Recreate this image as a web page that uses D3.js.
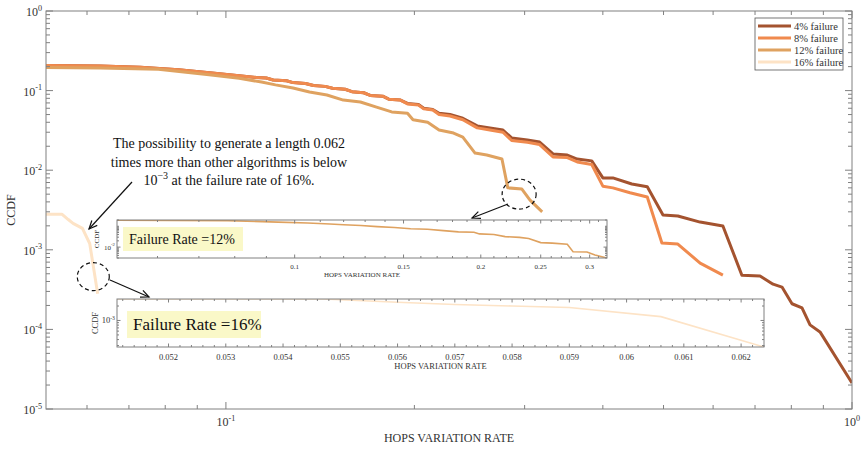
<!DOCTYPE html>
<html>
<head>
<meta charset="utf-8">
<script src="https://cdn.jsdelivr.net/npm/d3@7"></script>
<style>
  body { margin: 0; background: #fff; }
  svg { font-family: "Liberation Serif", "Times New Roman", serif; }
</style>
</head>
<body>
<svg id="chart" width="862" height="449"></svg>
<script>
// ---- data ----
const seriesNames = ["4% failure", "8% failure", "12% failure", "16% failure"];
const colors = ["#A4532F", "#F08A4E", "#DFA260", "#FDE3C6"];

const x4 = [0.0516,0.063,0.073,0.084,0.095,0.105,0.112,0.116,0.119,0.125,0.128,0.134,0.138,0.144,0.148,0.155,0.159,0.166,0.170,0.178,0.182,0.190,0.195,0.203,0.207,0.214,0.219,0.228,0.239,0.252,0.264,0.277,0.286,0.303,0.317,0.333,0.351,0.364,0.384,0.400,0.415,0.445,0.471,0.499,0.527,0.572,0.622,0.667,0.713,0.748,0.773,0.802,0.832,0.857,0.889,1.0];
const y4 = [0.206,0.204,0.197,0.183,0.166,0.154,0.146,0.144,0.136,0.133,0.126,0.123,0.116,0.113,0.107,0.104,0.097,0.094,0.087,0.085,0.078,0.076,0.069,0.067,0.060,0.058,0.052,0.050,0.0450,0.036,0.034,0.032,0.0254,0.024,0.0226,0.016,0.0155,0.0138,0.0131,0.0080,0.0080,0.0067,0.0062,0.00274,0.00266,0.00223,0.00199,0.00048,0.00047,0.00037,0.00034,0.00021,0.000186,0.000114,0.000093,0.0000212];

const x8 = [0.0516,0.063,0.073,0.084,0.095,0.105,0.112,0.116,0.119,0.125,0.128,0.134,0.138,0.144,0.148,0.155,0.159,0.166,0.170,0.178,0.182,0.190,0.195,0.203,0.207,0.214,0.219,0.228,0.239,0.252,0.264,0.277,0.286,0.303,0.317,0.333,0.351,0.364,0.384,0.400,0.415,0.442,0.471,0.497,0.527,0.572,0.622];
const y8 = [0.206,0.204,0.197,0.183,0.166,0.154,0.146,0.144,0.136,0.133,0.126,0.123,0.116,0.113,0.107,0.104,0.097,0.094,0.087,0.085,0.078,0.076,0.068,0.066,0.059,0.057,0.050,0.048,0.043,0.034,0.032,0.030,0.0236,0.0224,0.0210,0.0147,0.0144,0.0127,0.0118,0.0063,0.0060,0.0052,0.0046,0.00122,0.00118,0.00068,0.00048];

const x12 = [0.0516,0.063,0.078,0.094,0.105,0.114,0.120,0.128,0.136,0.145,0.154,0.164,0.174,0.184,0.195,0.199,0.210,0.219,0.231,0.239,0.250,0.261,0.276,0.282,0.297,0.306,0.320];
const y12 = [0.195,0.192,0.186,0.158,0.143,0.128,0.118,0.108,0.096,0.088,0.076,0.072,0.062,0.054,0.052,0.043,0.040,0.032,0.0293,0.0261,0.0164,0.0155,0.0138,0.0060,0.0058,0.0042,0.0030];

const x16 = [0.0511,0.0547,0.056,0.057,0.058,0.059,0.0606,0.0624];
const y16 = [0.0028,0.0028,0.00240,0.00215,0.00200,0.00186,0.00120,0.00028];

// ticks
const xMajor = [0.1, 1];
const xMajorExp = ["-1", "0"];
const xMinor = [0.06,0.07,0.08,0.09,0.2,0.3,0.4,0.5,0.6,0.7,0.8,0.9];
const yMajor = [1e-5, 1e-4, 1e-3, 1e-2, 1e-1, 1];
const yMajorExp = ["-5", "-4", "-3", "-2", "-1", "0"];

const in12XMajor = [0.1, 0.15, 0.2, 0.25, 0.3];
const in12XLabels = ["0.1", "0.15", "0.2", "0.25", "0.3"];
const in16XMajor = [0.052,0.053,0.054,0.055,0.056,0.057,0.058,0.059,0.06,0.061,0.062];
const in16XLabels = ["0.052","0.053","0.054","0.055","0.056","0.057","0.058","0.059","0.06","0.061","0.062"];

function logMinor(lo, hi) {
  const out = [];
  for (let e = Math.floor(Math.log10(lo)); e <= Math.ceil(Math.log10(hi)); e++) {
    for (let k = 2; k <= 9; k++) {
      const v = k * Math.pow(10, e);
      if (v >= lo && v <= hi) out.push(v);
    }
  }
  return out;
}

const svg = d3.select("#chart");
const axisColor = "#808080";
const textColor = "#333";

const x = d3.scaleLog().domain([0.0516, 1]).range([46, 852]);
const y = d3.scaleLog().domain([1e-5, 1]).range([409, 11]);

const series = [
  { name: seriesNames[0], xs: x4, ys: y4, color: colors[0] },
  { name: seriesNames[1], xs: x8, ys: y8, color: colors[1] },
  { name: seriesNames[2], xs: x12, ys: y12, color: colors[2] },
  { name: seriesNames[3], xs: x16, ys: y16, color: colors[3] }
];

let clipId = 0;
function addClip(x0, y0, w, h) {
  const id = "clip" + (clipId++);
  svg.append("clipPath").attr("id", id)
    .append("rect").attr("x", x0).attr("y", y0).attr("width", w).attr("height", h);
  return "url(#" + id + ")";
}

// ticks pointing inward on all four sides
function drawFrame(g, xs, ys, o) {
  const [x0, x1] = xs.range();
  const [y0, y1] = ys.range();
  const tick = (vals, len, side) => {
    vals.forEach(v => {
      if (side === "x") {
        const px = xs(v);
        g.append("line").attr("x1", px).attr("x2", px).attr("y1", y0).attr("y2", y0 - len);
        g.append("line").attr("x1", px).attr("x2", px).attr("y1", y1).attr("y2", y1 + len);
      } else {
        const py = ys(v);
        g.append("line").attr("y1", py).attr("y2", py).attr("x1", x0).attr("x2", x0 + len);
        g.append("line").attr("y1", py).attr("y2", py).attr("x1", x1).attr("x2", x1 - len);
      }
    });
  };
  g.attr("stroke", axisColor).attr("stroke-width", 1);
  tick(o.xMajor, o.major, "x");
  tick(o.xMinor, o.minor, "x");
  tick(o.yMajor, o.major, "y");
  tick(o.yMinor, o.minor, "y");
  g.append("rect").attr("x", x0).attr("y", y1).attr("width", x1 - x0).attr("height", y0 - y1)
    .attr("fill", "none");
}

function powLabel(sel, exp, fs) {
  sel.append("tspan").text("10");
  sel.append("tspan").attr("dy", -fs * 0.45).attr("font-size", fs * 0.68).text(exp);
}

// ---- main plot ----
const lineMain = d3.line().x(d => x(d[0])).y(d => y(d[1]));
const mainClip = addClip(46, 11, 806, 398);
const curves = svg.append("g").attr("clip-path", mainClip);
series.forEach(s => {
  curves.append("path")
    .datum(d3.zip(s.xs, s.ys))
    .attr("d", lineMain)
    .attr("fill", "none")
    .attr("stroke", s.color)
    .attr("stroke-width", 3)
    .attr("stroke-linejoin", "round");
});

drawFrame(svg.append("g"), x, y, {
  xMajor: xMajor, xMinor: xMinor,
  yMajor: yMajor, yMinor: logMinor(1e-5, 1),
  major: 7, minor: 4
});

xMajor.forEach((v, i) => {
  const t = svg.append("text").attr("x", x(v)).attr("y", 426)
    .attr("text-anchor", "middle").attr("font-size", 12).attr("fill", textColor);
  powLabel(t, xMajorExp[i], 12);
});
yMajor.forEach((v, i) => {
  const t = svg.append("text").attr("x", 42).attr("y", y(v) + 5)
    .attr("text-anchor", "end").attr("font-size", 12).attr("fill", textColor);
  powLabel(t, yMajorExp[i], 12);
});

svg.append("text").attr("x", 449).attr("y", 442).attr("text-anchor", "middle")
  .attr("font-size", 12).attr("fill", textColor).text("HOPS VARIATION RATE");
svg.append("text").attr("transform", "translate(15,210) rotate(-90)")
  .attr("text-anchor", "middle").attr("font-size", 12).attr("fill", textColor).text("CCDF");

// ---- annotations ----
const ann = svg.append("g").attr("stroke", "#111").attr("fill", "none");
ann.append("ellipse").attr("cx", x(0.0614)).attr("cy", y(0.00046)).attr("rx", 16).attr("ry", 14)
  .attr("stroke-dasharray", "4,3").attr("stroke-width", 1.2);
ann.append("ellipse").attr("cx", x(0.294)).attr("cy", y(0.0050)).attr("rx", 17).attr("ry", 15)
  .attr("stroke-dasharray", "4,3").attr("stroke-width", 1.2);

function arrow(x1, y1, x2, y2) {
  const a = Math.atan2(y2 - y1, x2 - x1);
  const L = 9, sp = 0.42;
  ann.append("line").attr("x1", x1).attr("y1", y1).attr("x2", x2).attr("y2", y2).attr("stroke-width", 1.2);
  ann.append("path")
    .attr("d", `M${x2 - L * Math.cos(a - sp)},${y2 - L * Math.sin(a - sp)}L${x2},${y2}L${x2 - L * Math.cos(a + sp)},${y2 - L * Math.sin(a + sp)}`)
    .attr("stroke-width", 1.2);
}
arrow(132, 182, 89, 229);
arrow(110, 280, 149, 297);
arrow(508, 204, 472, 218);

const note = svg.append("text").attr("text-anchor", "middle").attr("font-size", 14).attr("fill", "#111");
note.append("tspan").attr("x", 229).attr("y", 148).text("The possibility to generate a length 0.062");
note.append("tspan").attr("x", 229).attr("y", 167).text("times more than other algorithms is below");
const l3 = note.append("tspan").attr("x", 229).attr("y", 185);
l3.append("tspan").text("10");
l3.append("tspan").attr("dy", -6).attr("font-size", 10).text("\u22123");
l3.append("tspan").attr("dy", 6).text(" at the failure rate of 16%.");

// ---- insets ----
function inset(o) {
  const xs = o.xs, ys = o.ys;
  const [x0, x1] = xs.range();
  const [y0, y1] = ys.range();
  svg.append("rect").attr("x", x0).attr("y", y1).attr("width", x1 - x0).attr("height", y0 - y1).attr("fill", "#fff");
  svg.append("rect").attr("x", o.box[0]).attr("y", o.box[1]).attr("width", o.box[2]).attr("height", o.box[3])
    .attr("fill", "#FAF8C8");
  svg.append("text").attr("x", o.box[0] + 6).attr("y", o.box[1] + o.box[3] / 2 + o.fs * 0.35)
    .attr("font-size", o.fs).attr("fill", "#111").text(o.title);
  const cp = addClip(x0, y1, x1 - x0, y0 - y1);
  const ln = d3.line().x(d => xs(d[0])).y(d => ys(d[1]));
  svg.append("path").attr("clip-path", cp)
    .datum(d3.zip(o.s.xs, o.s.ys))
    .attr("d", ln).attr("fill", "none").attr("stroke", o.s.color).attr("stroke-width", 1.6);
  drawFrame(svg.append("g"), xs, ys, {
    xMajor: o.xMajor, xMinor: o.xMinor, yMajor: o.yMajor, yMinor: o.yMinor,
    major: 3.5, minor: 2
  });
  o.xMajor.forEach((v, i) => {
    svg.append("text").attr("x", xs(v)).attr("y", y0 + o.tfs + 4).attr("text-anchor", "middle")
      .attr("font-size", o.tfs).attr("fill", textColor).text(o.xLabels[i]);
  });
  o.yMajor.forEach((v, i) => {
    const t = svg.append("text").attr("x", x0 - 2).attr("y", ys(v) + o.tfs * 0.35)
      .attr("text-anchor", "end").attr("font-size", o.tfs).attr("fill", textColor);
    powLabel(t, o.yExp[i], o.tfs);
  });
  svg.append("text").attr("x", (x0 + x1) / 2).attr("y", y0 + o.tfs * 2 + 5).attr("text-anchor", "middle")
    .attr("font-size", o.tfs).attr("fill", textColor).text("HOPS VARIATION RATE");
  svg.append("text").attr("transform", `translate(${o.ylx},${(y0 + y1) / 2}) rotate(-90)`)
    .attr("text-anchor", "middle").attr("font-size", o.tfs).attr("fill", textColor).text("CCDF");
}

const minor12 = d3.range(6, 32).map(k => k / 100).filter(v => !in12XMajor.some(m => Math.abs(m - v) < 1e-9));
inset({
  xs: d3.scaleLog().domain([0.0516, 0.32]).range([117, 607]),
  ys: d3.scaleLog().domain([0.003, 0.2]).range([258, 220]),
  s: series[2],
  xMajor: in12XMajor, xLabels: in12XLabels, xMinor: minor12,
  yMajor: [0.01], yExp: ["-2"], yMinor: logMinor(0.003, 0.2).concat([0.1]),
  box: [123, 227, 120, 24], title: "Failure Rate =12%", fs: 14, tfs: 7, ylx: 99
});

const minor16 = d3.range(256, 313).map(k => k / 5000).filter(v => !in16XMajor.some(m => Math.abs(m - v) < 1e-9));
inset({
  xs: d3.scaleLinear().domain([0.0511, 0.0624]).range([117, 764]),
  ys: d3.scaleLog().domain([0.00028, 0.0028]).range([347, 299]),
  s: series[3],
  xMajor: in16XMajor, xLabels: in16XLabels, xMinor: minor16,
  yMajor: [0.001], yExp: ["-3"], yMinor: logMinor(0.00028, 0.0028),
  box: [127, 311, 134, 27], title: "Failure Rate =16%", fs: 17, tfs: 8.5, ylx: 98
});

// ---- legend ----
const lg = svg.append("g");
lg.append("rect").attr("x", 755).attr("y", 18).attr("width", 88).attr("height", 52)
  .attr("fill", "#fff").attr("stroke", "#555").attr("stroke-width", 0.8);
series.forEach((s, i) => {
  const yy = 26 + i * 12;
  lg.append("line").attr("x1", 758).attr("x2", 791).attr("y1", yy).attr("y2", yy)
    .attr("stroke", s.color).attr("stroke-width", 3);
  lg.append("text").attr("x", 794).attr("y", yy + 3.5).attr("font-size", 10.5).attr("fill", textColor).text(s.name);
});
</script>
</body>
</html>
